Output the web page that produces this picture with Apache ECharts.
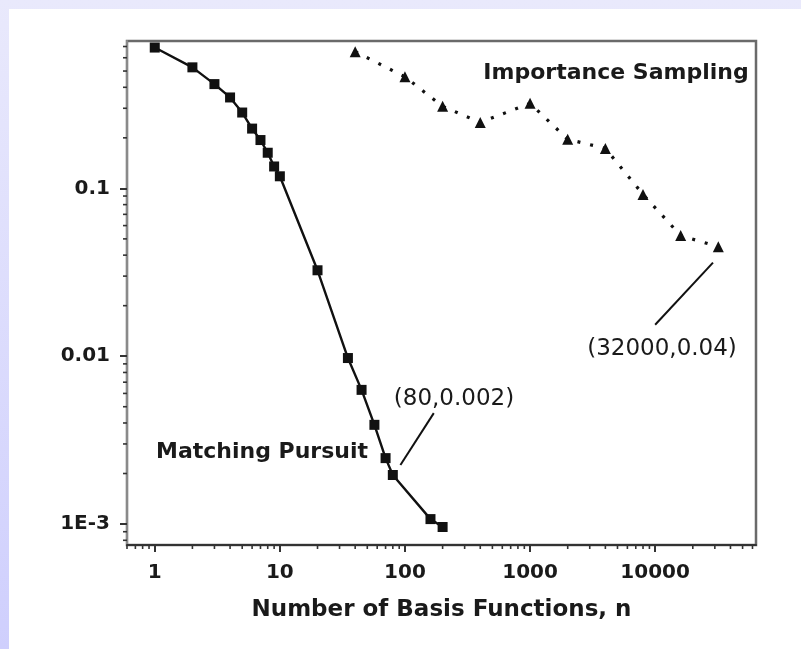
<!DOCTYPE html>
<html><head><meta charset="utf-8">
<script src="https://cdn.jsdelivr.net/npm/echarts@6/dist/echarts.min.js"></script>
<style>
html,body{margin:0;padding:0;width:801px;height:649px;overflow:hidden;background:linear-gradient(to bottom,#e9e9fc,#cfcffd);}
#panel{position:absolute;left:9px;top:9px;width:792px;height:640px;background:#fff;}
#chart{position:absolute;left:0;top:0;width:801px;height:649px;}
</style></head><body><div id="panel"></div><div id="chart"></div>
<script>
// Matching Pursuit (squares, solid)
const mpN   = [1, 2, 3, 4, 5, 6, 7, 8, 9, 10, 20, 35, 45, 57, 70, 80, 160, 200];
const mpErr = [0.69, 0.526, 0.418, 0.348, 0.283, 0.227, 0.194, 0.163, 0.135, 0.118, 0.0325, 0.00975, 0.0063, 0.0039, 0.00247, 0.00196, 0.00107, 0.00096];
// Importance Sampling (triangles, dotted)
const isN   = [40, 100, 200, 400, 1000, 2000, 4000, 8000, 16000, 32000];
const isErr = [0.652, 0.462, 0.308, 0.247, 0.321, 0.196, 0.173, 0.092, 0.0523, 0.0449];
// tick labels
const xTickValues = [1, 10, 100, 1000, 10000];
const xTickLabels = ['1', '10', '100', '1000', '10000'];
const yTickValues = [0.1, 0.01, 0.001];
const yTickLabels = ['0.1', '0.01', '1E-3'];
// minor tick positions (axis decoration)
const xMinorTicks = [0.6,0.7,0.8,0.9, 2,3,4,5,6,7,8,9, 20,30,40,50,60,70,80,90, 200,300,400,500,600,700,800,900, 2000,3000,4000,5000,6000,7000,8000,9000, 20000,30000,40000,50000,60000];
const yMinorTicks = [0.0008,0.0009, 0.002,0.003,0.004,0.005,0.006,0.007,0.008,0.009, 0.02,0.03,0.04,0.05,0.06,0.07,0.08,0.09, 0.2,0.3,0.4,0.5,0.6,0.7];
// annotation leader lines [from, to] in data coordinates
const mpLeader = [[92, 0.00225], [170, 0.00458]];
const isLeader = [[10000, 0.0154], [29000, 0.0361]];

const X_MIN = 0.6, X_MAX = 64000, Y_MIN = 0.00075, Y_MAX = 0.755;
const FONT = 'DejaVu Sans';
const INK = '#1a1a1a';

function pick(vals, labels, v) {
  for (let i = 0; i < vals.length; i++) {
    if (Math.abs(Math.log10(v) - Math.log10(vals[i])) < 0.01) return labels[i];
  }
  return '';
}

const chart = echarts.init(document.getElementById('chart'), null, {renderer: 'canvas'});
chart.setOption({
  animation: false,
  backgroundColor: 'transparent',
  grid: {left: 127, right: 45, top: 41, bottom: 104, show: true, borderColor: '#6a6a6a', borderWidth: 2.5, backgroundColor: 'transparent'},
  xAxis: {
    type: 'log', logBase: 10, min: X_MIN, max: X_MAX,
    name: 'Number of Basis Functions, n', nameLocation: 'middle', nameGap: 54,
    nameTextStyle: {fontFamily: FONT, fontWeight: 'bold', fontSize: 23, color: INK},
    axisLine: {show: true, lineStyle: {color: '#333', width: 2}},
    axisTick: {show: true, inside: false, length: 7, lineStyle: {color: '#333', width: 2}},
    axisLabel: {show: true, margin: 18, showMinLabel: false, showMaxLabel: false,
      fontFamily: FONT, fontWeight: 'bold', fontSize: 20, color: INK,
      formatter: v => pick(xTickValues, xTickLabels, v)},
    splitLine: {show: false}, minorTick: {show: false}
  },
  yAxis: {
    type: 'log', logBase: 10, min: Y_MIN, max: Y_MAX,
    axisLine: {show: true, lineStyle: {color: '#8a8a8a', width: 2}},
    axisTick: {show: true, inside: false, length: 7, lineStyle: {color: '#333', width: 2}},
    axisLabel: {show: true, margin: 17, showMinLabel: false, showMaxLabel: false,
      fontFamily: FONT, fontWeight: 'bold', fontSize: 20, color: INK,
      formatter: v => pick(yTickValues, yTickLabels, v)},
    splitLine: {show: false}, minorTick: {show: false}
  },
  series: [
    {
      name: 'Matching Pursuit', type: 'line',
      data: mpN.map((n, i) => [n, mpErr[i]]),
      symbol: 'rect', symbolSize: 10, showSymbol: true,
      itemStyle: {color: '#111'},
      lineStyle: {color: '#111', width: 2.4},
      z: 5,
      markLine: {silent: true, symbol: ['none', 'none'], animation: false,
        label: {show: false}, lineStyle: {color: '#111', width: 2, type: 'solid'},
        data: [[{coord: mpLeader[0]}, {coord: mpLeader[1]}]]}
    },
    {
      name: 'Importance Sampling', type: 'line',
      data: isN.map((n, i) => [n, isErr[i]]),
      symbol: 'triangle', symbolSize: 11, showSymbol: true,
      itemStyle: {color: '#111'},
      lineStyle: {color: '#111', width: 3.2, type: [3, 10]},
      z: 5,
      markLine: {silent: true, symbol: ['none', 'none'], animation: false,
        label: {show: false}, lineStyle: {color: '#111', width: 2, type: 'solid'},
        data: [[{coord: isLeader[0]}, {coord: isLeader[1]}]]}
    },
    {
      name: 'x minor ticks', type: 'custom', silent: true, clip: false, z: 3,
      data: xMinorTicks.map(v => [v, Y_MIN]),
      renderItem: (params, api) => {
        const p = api.coord([api.value(0), Y_MIN]);
        return {type: 'line', shape: {x1: p[0], y1: p[1], x2: p[0], y2: p[1] + 4}, style: {stroke: '#333', lineWidth: 1.6}};
      }
    },
    {
      name: 'y minor ticks', type: 'custom', silent: true, clip: false, z: 3,
      data: yMinorTicks.map(v => [X_MIN, v]),
      renderItem: (params, api) => {
        const p = api.coord([X_MIN, api.value(1)]);
        return {type: 'line', shape: {x1: p[0], y1: p[1], x2: p[0] - 4, y2: p[1]}, style: {stroke: '#333', lineWidth: 1.6}};
      }
    }
  ],
  graphic: [
    {type: 'text', x: 616, y: 73, style: {text: 'Importance Sampling', fill: INK, font: 'bold 22px "DejaVu Sans"', textAlign: 'center', textVerticalAlign: 'middle'}},
    {type: 'text', x: 262, y: 452, style: {text: 'Matching Pursuit', fill: INK, font: 'bold 22px "DejaVu Sans"', textAlign: 'center', textVerticalAlign: 'middle'}},
    {type: 'text', x: 454, y: 399, style: {text: '(80,0.002)', fill: INK, font: '23px "DejaVu Sans"', textAlign: 'center', textVerticalAlign: 'middle'}},
    {type: 'text', x: 662, y: 349, style: {text: '(32000,0.04)', fill: INK, font: '23px "DejaVu Sans"', textAlign: 'center', textVerticalAlign: 'middle'}}
  ]
});
</script></body></html>
